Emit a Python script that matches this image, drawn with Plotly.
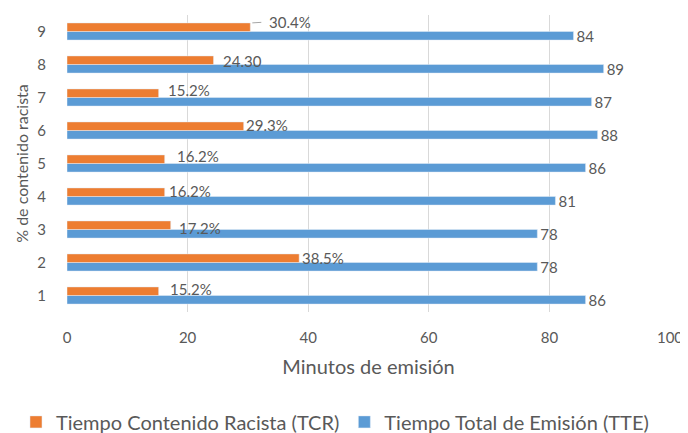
import plotly.graph_objects as go

categories = [1, 2, 3, 4, 5, 6, 7, 8, 9]
tcr_minutes = [15.2, 38.5, 17.2, 16.2, 16.2, 29.3, 15.2, 24.3, 30.4]
tcr_labels = ["15.2%", "38.5%", "17.2%", "16.2%", "16.2%", "29.3%", "15.2%", "24.30", "30.4%"]
tte_minutes = [86, 78, 78, 81, 86, 88, 87, 89, 84]
x_ticks = [0, 20, 40, 60, 80, 100]

# label offsets (pixels) - style only
tcr_label_dx = [9, 1, 6, 2, 10, 0, 7, 7, 17]
tcr_label_dy = [7, 5, 2, 6, 8, 6, 8, 4, 9]

ORANGE = "#ED7D31"
BLUE = "#5B9BD5"
GREY = "#595959"
FONT = "Lato, 'Open Sans', sans-serif"

fig = go.Figure()
fig.add_trace(go.Bar(
    y=categories, x=tte_minutes, orientation="h", name="Tiempo Total de Emisión (TTE)",
    marker=dict(color=BLUE), text=[str(v) for v in tte_minutes], textposition="outside",
    constraintext="none",
    textfont=dict(color=GREY, size=15, family=FONT), cliponaxis=False, legendrank=2,
))
fig.add_trace(go.Bar(
    y=categories, x=tcr_minutes, orientation="h", name="Tiempo Contenido Racista (TCR)",
    marker=dict(color=ORANGE), legendrank=1,
))

for c, v, lab, dx, dy in zip(categories, tcr_minutes, tcr_labels, tcr_label_dx, tcr_label_dy):
    if c == 9:
        fig.add_annotation(x=v, y=c, text=lab, showarrow=True, ax=dx, ay=-1, arrowhead=0,
                           arrowwidth=1, arrowcolor="#A6A6A6", xanchor="left", yanchor="middle",
                           yshift=8.5, standoff=2, startstandoff=6,
                           font=dict(color=GREY, size=15, family=FONT))
    else:
        fig.add_annotation(x=v, y=c, text=lab, showarrow=False, xanchor="left", yanchor="middle",
                           xshift=dx, yshift=dy, font=dict(color=GREY, size=15, family=FONT))

# page body has an 8px margin, so the figure is 8px smaller and margins shifted
fig.update_layout(
    width=680, height=425,
    margin=dict(l=59, r=18, t=7, b=121, autoexpand=False),
    paper_bgcolor="white", plot_bgcolor="white",
    barmode="group", bargap=0.48, bargroupgap=0,
    font=dict(family=FONT, color=GREY, size=15),
    showlegend=True,
    legend=dict(orientation="h", x=-0.0846, xanchor="left", y=-0.370, yanchor="middle",
                font=dict(size=20, color=GREY, family=FONT), itemwidth=30),
    xaxis=dict(range=[0, 100], tickvals=x_ticks, showgrid=True, gridcolor="#D9D9D9",
               zeroline=False, showline=False, ticks="", ticklabelstandoff=15,
               automargin=False,
               tickfont=dict(size=15, color=GREY),
               title=dict(text="Minutos de emisión", font=dict(size=20, color=GREY), standoff=14)),
    yaxis=dict(range=[0.5, 9.5], tickvals=categories, showgrid=False, zeroline=False,
               showline=False, ticks="", ticklabelstandoff=20, automargin=False,
               tickfont=dict(size=15, color=GREY),
               title=dict(text="% de contenido racista", font=dict(size=16, color=GREY), standoff=4)),
)

fig.write_html("out.html")
